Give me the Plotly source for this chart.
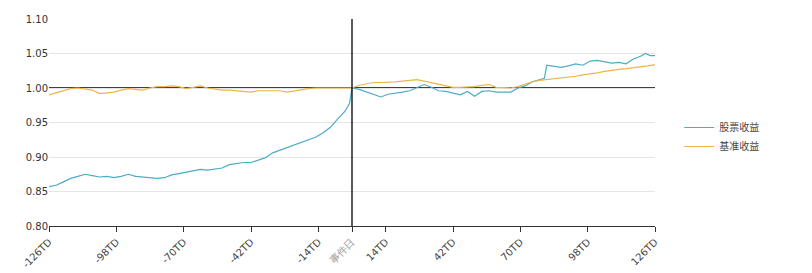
import plotly.graph_objects as go

stock_days = [-126, -123, -120, -117, -114, -111, -108, -105, -102, -99, -96, -93, -90, -87, -84, -81,
              -78, -75, -72, -69, -66, -63, -60, -57, -54, -51, -48, -45, -42, -39, -36, -33, -30, -27,
              -24, -21, -18, -15, -12, -9, -6, -3, -1, 0,
              3, 6, 9, 12, 15, 18, 21, 24, 27, 30, 33, 36, 39, 42, 45, 48, 51, 54, 57, 60, 63, 66, 69,
              72, 75, 78, 80, 81, 84, 87, 90, 93, 96, 99, 102, 105, 108, 111, 114, 117, 120, 122, 124, 126]
stock_vals = [0.857, 0.859, 0.864, 0.869, 0.872, 0.875, 0.873, 0.871, 0.872, 0.870, 0.872, 0.875, 0.872,
              0.871, 0.869, 0.869, 0.870, 0.874, 0.876, 0.878, 0.879, 0.882, 0.881, 0.882, 0.884, 0.889,
              0.891, 0.892, 0.892, 0.895, 0.899, 0.906, 0.910, 0.913, 0.917, 0.922, 0.925, 0.929, 0.935,
              0.943, 0.955, 0.966, 0.978, 1.000,
              0.998, 0.994, 0.991, 0.987, 0.991, 0.992, 0.994, 0.996, 1.001, 1.005, 1.001, 0.996, 0.995,
              0.993, 0.990, 0.995, 0.988, 0.995, 0.996, 0.994, 0.994, 0.994, 1.000, 1.003, 1.009, 1.012,
              1.014, 1.033, 1.031, 1.030, 1.032, 1.035, 1.033, 1.039, 1.040, 1.038, 1.036, 1.037, 1.035,
              1.042, 1.046, 1.050, 1.047, 1.047]

bench_days = list(range(-126, 127, 3))
bench_vals = [0.990, 0.993, 0.996, 0.999, 1.000, 0.999, 0.997, 0.992, 0.993, 0.994, 0.997, 0.999, 0.998,
              0.997, 1.000, 1.002, 1.002, 1.003, 1.002, 0.999, 1.001, 1.003, 1.000, 0.998, 0.997, 0.997,
              0.996, 0.995, 0.994, 0.996, 0.996, 0.997, 0.996, 0.994, 0.996, 0.997, 0.999, 1.000, 1.000,
              1.000, 1.000, 1.000, 1.000,
              1.004, 1.006, 1.008, 1.008, 1.008, 1.009, 1.010, 1.011, 1.012, 1.010, 1.008, 1.006, 1.004,
              1.001, 1.001, 1.001, 1.002, 1.004, 1.005, 1.001, 1.000, 1.000, 1.002, 1.006, 1.009, 1.011,
              1.012, 1.013, 1.014, 1.015, 1.017, 1.019, 1.020, 1.022, 1.024, 1.026, 1.027, 1.028, 1.029,
              1.030, 1.032, 1.034]

x_tickvals = [-126, -98, -70, -42, -14, 0, 14, 42, 70, 98, 126]
x_ticktext = ["-126TD", "-98TD", "-70TD", "-42TD", "-14TD",
              "<span style='color:#9a9a9a'>事件日</span>",
              "14TD", "42TD", "70TD", "98TD", "126TD"]
y_tickvals = [0.80, 0.85, 0.90, 0.95, 1.00, 1.05, 1.10]

fig = go.Figure()
fig.add_trace(go.Scatter(x=stock_days, y=stock_vals, mode="lines", name="股票收益",
                         line=dict(color="#4BACC6", width=1.2)))
fig.add_trace(go.Scatter(x=bench_days, y=bench_vals, mode="lines", name="基准收益",
                         line=dict(color="#EDB44A", width=1.2)))

fig.add_shape(type="line", xref="paper", yref="y", x0=0, x1=1, y0=1.0, y1=1.0,
              line=dict(color="black", width=1.6), layer="between")
fig.add_shape(type="line", xref="x", yref="paper", x0=0, x1=0, y0=0, y1=1,
              line=dict(color="black", width=1.3), layer="above")

fig.update_layout(
    width=812, height=273,
    margin=dict(l=49, r=157, t=19, b=47, autoexpand=False),
    paper_bgcolor="white", plot_bgcolor="white",
    font=dict(family="DejaVu Sans, Verdana, sans-serif", size=10, color="#333333"),
    showlegend=True,
    legend=dict(x=1.04, y=0.43, xanchor="left", yanchor="middle",
                font=dict(family="Noto Sans CJK SC, sans-serif", size=10, color="#444444"),
                bgcolor="rgba(0,0,0,0)", itemwidth=30, tracegroupgap=2),
)
fig.update_xaxes(range=[-126, 126], tickvals=x_tickvals, ticktext=x_ticktext,
                 tickangle=-45, showgrid=False, zeroline=False, automargin=False,
                 showline=True, linecolor="#333333", linewidth=1.3,
                 ticks="outside", ticklen=5, tickcolor="#333333",
                 tickfont=dict(size=10, color="#444444"))
fig.update_yaxes(range=[0.80, 1.10], tickvals=y_tickvals, tickformat=".2f", automargin=False,
                 showgrid=True, gridcolor="#e6e6e6", gridwidth=1, zeroline=False,
                 showline=False, ticks="", tickfont=dict(size=10, color="#333333"))

fig.write_html("out.html")
